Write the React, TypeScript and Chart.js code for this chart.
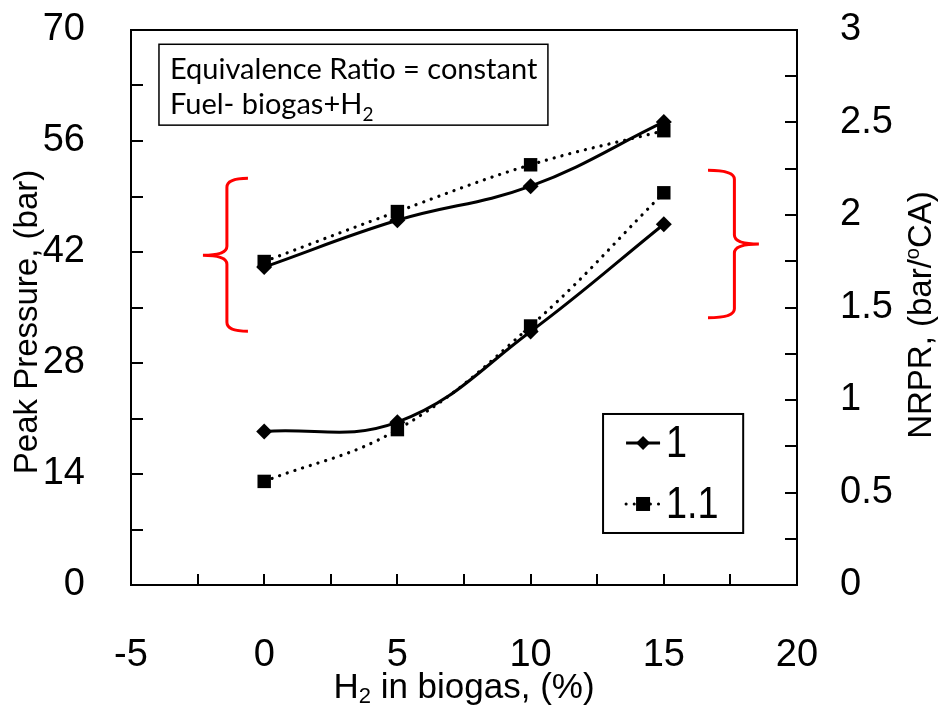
import React, { useEffect, useRef } from "react";
import { Chart, registerables } from "chart.js";

Chart.register(...registerables);

// ---------- data ----------
const hydrogenPct = [0, 5, 10, 15];
const peakPressurePhi1 = [40.1, 46.0, 50.3, 58.4];
const peakPressurePhi11 = [40.8, 47.1, 53.0, 57.3];
const nrprPhi1 = [0.83, 0.88, 1.37, 1.95];
const nrprPhi11 = [0.56, 0.84, 1.4, 2.12];
const seriesLabels = ["1", "1.1"];
const annotationLines = ["Equivalence Ratio = constant", "Fuel- biogas+H"];
const leftTitle = "Peak Pressure, (bar)";
const rightTitle = ["NRPR, (bar/", "o", "CA)"];
const xTitle = ["H", "2", " in biogas, (%)"];

const FONT = '"Liberation Sans", Arial, Helvetica, sans-serif';
const NOTE_FONT = 'Lato, "Open Sans", sans-serif';

const toPts = (ys: number[]) => hydrogenPct.map((x, i) => ({ x, y: ys[i] }));

function drawDiamond(ctx: CanvasRenderingContext2D, x: number, y: number, r: number) {
  ctx.beginPath();
  ctx.moveTo(x, y - r);
  ctx.lineTo(x + r, y);
  ctx.lineTo(x, y + r);
  ctx.lineTo(x - r, y);
  ctx.closePath();
  ctx.fill();
}
function drawSquare(ctx: CanvasRenderingContext2D, x: number, y: number, h: number) {
  ctx.fillRect(x - h, y - h, 2 * h, 2 * h);
}

function drawBrace(
  ctx: CanvasRenderingContext2D,
  armX: number,
  spineX: number,
  tipX: number,
  topY: number,
  bottomY: number,
  tipY: number
) {
  const r = 9;
  ctx.beginPath();
  ctx.moveTo(armX, topY);
  ctx.quadraticCurveTo(spineX, topY, spineX, topY + r);
  ctx.lineTo(spineX, tipY - r);
  ctx.quadraticCurveTo(spineX, tipY, tipX, tipY);
  ctx.quadraticCurveTo(spineX, tipY, spineX, tipY + r);
  ctx.lineTo(spineX, bottomY - r);
  ctx.quadraticCurveTo(spineX, bottomY, armX, bottomY);
  ctx.stroke();
}

function drawPieces(
  ctx: CanvasRenderingContext2D,
  parts: string[],
  big: number,
  small: number,
  smallShift: number
) {
  ctx.font = `${big}px ${FONT}`;
  const w0 = ctx.measureText(parts[0]).width;
  const w2 = ctx.measureText(parts[2]).width;
  ctx.font = `${small}px ${FONT}`;
  const w1 = ctx.measureText(parts[1]).width;
  let x = -(w0 + w1 + w2) / 2;
  ctx.textAlign = "left";
  ctx.font = `${big}px ${FONT}`;
  ctx.fillText(parts[0], x, 0);
  x += w0;
  ctx.font = `${small}px ${FONT}`;
  ctx.fillText(parts[1], x, smallShift);
  x += w1;
  ctx.font = `${big}px ${FONT}`;
  ctx.fillText(parts[2], x, 0);
}

const decorPlugin = {
  id: "decor",
  afterDraw(chart: any) {
    const { ctx, chartArea: a, scales } = chart;
    const sx = scales.x;
    const syl = scales.y;
    const syr = scales.y1;
    ctx.save();

    // frame
    ctx.strokeStyle = "#000";
    ctx.lineWidth = 2;
    ctx.strokeRect(a.left, a.top, a.right - a.left, a.bottom - a.top);

    // inward ticks
    ctx.lineWidth = 2;
    ctx.beginPath();
    for (let v = sx.min + 2.5; v < sx.max - 0.01; v += 2.5) {
      const p = Math.round(sx.getPixelForValue(v));
      ctx.moveTo(p, a.bottom);
      ctx.lineTo(p, a.bottom - 11);
    }
    for (let v = syl.min + 7; v < syl.max - 0.01; v += 7) {
      const p = Math.round(syl.getPixelForValue(v));
      ctx.moveTo(a.left, p);
      ctx.lineTo(a.left + 12, p);
    }
    for (let v = syr.min + 0.25; v < syr.max - 0.001; v += 0.25) {
      const p = Math.round(syr.getPixelForValue(v));
      ctx.moveTo(a.right, p);
      ctx.lineTo(a.right - 12, p);
    }
    ctx.stroke();

    // annotation box
    const bx0 = sx.getPixelForValue(-3.95);
    const bx1 = sx.getPixelForValue(10.65);
    const by0 = syl.getPixelForValue(68.2);
    const by1 = syl.getPixelForValue(58.0);
    ctx.lineWidth = 1.5;
    ctx.strokeRect(bx0, by0, bx1 - bx0, by1 - by0);
    ctx.fillStyle = "#000";
    ctx.textAlign = "left";
    ctx.textBaseline = "alphabetic";
    ctx.font = `29px ${NOTE_FONT}`;
    ctx.fillText(annotationLines[0], bx0 + 11, by0 + 35);
    ctx.fillText(annotationLines[1], bx0 + 11, by0 + 70);
    const w2 = ctx.measureText(annotationLines[1]).width;
    ctx.font = `19px ${NOTE_FONT}`;
    ctx.fillText("2", bx0 + 11 + w2, by0 + 77);

    // red braces
    ctx.strokeStyle = "#ff0000";
    ctx.lineWidth = 3;
    drawBrace(
      ctx,
      sx.getPixelForValue(-0.61),
      sx.getPixelForValue(-1.4),
      sx.getPixelForValue(-2.3),
      syl.getPixelForValue(51.3),
      syl.getPixelForValue(32.0),
      syl.getPixelForValue(41.6)
    );
    drawBrace(
      ctx,
      sx.getPixelForValue(16.66),
      sx.getPixelForValue(17.65),
      sx.getPixelForValue(18.57),
      syl.getPixelForValue(52.3),
      syl.getPixelForValue(33.7),
      syl.getPixelForValue(43.0)
    );

    // legend
    const lx0 = sx.getPixelForValue(12.72);
    const lx1 = sx.getPixelForValue(17.98);
    const ly0 = syl.getPixelForValue(21.57);
    const ly1 = syl.getPixelForValue(6.56);
    ctx.strokeStyle = "#000";
    ctx.lineWidth = 2;
    ctx.strokeRect(lx0, ly0, lx1 - lx0, ly1 - ly0);
    const rows = [ly0 + 29, ly0 + 90];
    seriesLabels.forEach((lab, i) => {
      const y = rows[i];
      const s0 = lx0 + 23;
      const s1 = lx0 + 57;
      ctx.strokeStyle = "#000";
      ctx.fillStyle = "#000";
      ctx.lineWidth = 3;
      if (i === 0) {
        ctx.setLineDash([]);
        ctx.lineCap = "butt";
      } else {
        ctx.setLineDash([0.1, 8]);
        ctx.lineCap = "round";
      }
      ctx.beginPath();
      ctx.moveTo(s0, y);
      ctx.lineTo(s1, y);
      ctx.stroke();
      ctx.setLineDash([]);
      ctx.lineCap = "butt";
      if (i === 0) drawDiamond(ctx, (s0 + s1) / 2, y, 7);
      else drawSquare(ctx, (s0 + s1) / 2, y, 7);
      ctx.save();
      ctx.translate(lx0 + 63, y);
      ctx.scale(0.86, 1);
      ctx.font = `44px ${FONT}`;
      ctx.textBaseline = "middle";
      ctx.textAlign = "left";
      ctx.fillText(lab, 0, 2);
      ctx.restore();
    });

    // axis titles
    ctx.fillStyle = "#000";
    ctx.textBaseline = "middle";
    // left
    ctx.save();
    ctx.translate(28, 322);
    ctx.rotate(-Math.PI / 2);
    ctx.font = `33px ${FONT}`;
    ctx.textAlign = "center";
    ctx.fillText(leftTitle, 0, 0);
    ctx.restore();
    // right
    ctx.save();
    ctx.translate(922, 315);
    ctx.rotate(-Math.PI / 2);
    drawPieces(ctx, rightTitle, 33, 20, -9);
    ctx.restore();
    // bottom
    ctx.save();
    ctx.translate((a.left + a.right) / 2, 688);
    drawPieces(ctx, xTitle, 35, 22, 9);
    ctx.restore();

    ctx.restore();
  },
};

const fmt = (v: any) => String(Math.round(Number(v) * 100) / 100);

export default function App() {
  const ref = useRef<HTMLCanvasElement | null>(null);

  useEffect(() => {
    if (!ref.current) return;
    const solid = {
      borderColor: "#000",
      backgroundColor: "#000",
      borderWidth: 3,
      pointStyle: "rectRot" as const,
      pointRadius: 8,
      pointBorderWidth: 0,
      tension: 0.4,
    };
    const dotted = {
      borderColor: "#000",
      backgroundColor: "#000",
      borderWidth: 3.2,
      borderDash: [0.1, 8],
      borderCapStyle: "round" as const,
      pointStyle: "rect" as const,
      pointRadius: 9.5,
      pointBorderWidth: 0,
      tension: 0.4,
    };
    const chart = new Chart(ref.current, {
      type: "line",
      data: {
        datasets: [
          { label: seriesLabels[0], data: toPts(peakPressurePhi1), yAxisID: "y", ...solid },
          { label: seriesLabels[1], data: toPts(peakPressurePhi11), yAxisID: "y", ...dotted },
          { label: seriesLabels[0], data: toPts(nrprPhi1), yAxisID: "y1", ...solid },
          { label: seriesLabels[1], data: toPts(nrprPhi11), yAxisID: "y1", ...dotted },
        ],
      },
      options: {
        animation: false,
        responsive: false,
        devicePixelRatio: 1,
        layout: { padding: { top: 30, left: 0, right: 0, bottom: 0 } },
        plugins: { legend: { display: false }, tooltip: { enabled: false } },
        scales: {
          x: {
            type: "linear",
            min: -5,
            max: 20,
            grid: { display: false },
            border: { display: false },
            ticks: {
              stepSize: 5,
              color: "#000",
              padding: 40,
              font: { family: FONT, size: 38 },
              maxRotation: 0,
              callback: fmt,
            },
            afterFit: (s: any) => {
              s.height = 121;
              s.paddingLeft = 0;
              s.paddingRight = 0;
            },
          },
          y: {
            position: "left",
            min: 0,
            max: 70,
            grid: { display: false },
            border: { display: false },
            ticks: {
              stepSize: 14,
              color: "#000",
              padding: 38,
              font: { family: FONT, size: 38 },
              callback: fmt,
            },
            afterFit: (s: any) => {
              s.width = 131;
              s.paddingTop = 0;
              s.paddingBottom = 0;
            },
          },
          y1: {
            position: "right",
            min: 0,
            max: 3,
            grid: { display: false },
            border: { display: false },
            ticks: {
              stepSize: 0.5,
              color: "#000",
              padding: 35,
              font: { family: FONT, size: 38 },
              callback: fmt,
            },
            afterFit: (s: any) => {
              s.width = 149;
              s.paddingTop = 0;
              s.paddingBottom = 0;
            },
          },
        },
      },
      plugins: [decorPlugin],
    });
    return () => chart.destroy();
  }, []);

  return (
    <div style={{ position: "fixed", left: 0, top: 0, width: 946, height: 706, background: "#fff" }}>
      <canvas ref={ref} width={946} height={706} />
    </div>
  );
}
